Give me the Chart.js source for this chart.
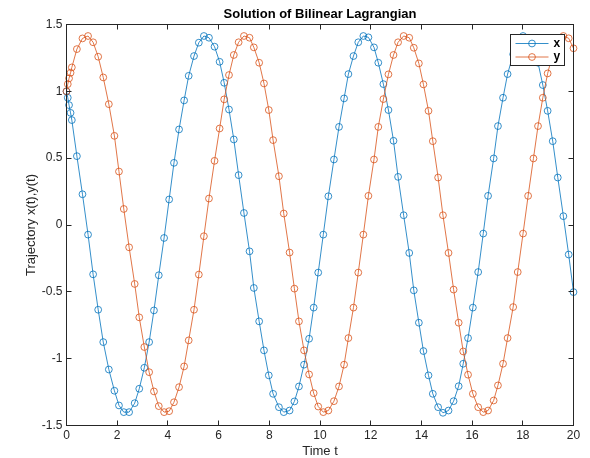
<!DOCTYPE html>
<html>
<head>
<meta charset="utf-8">
<script src="https://cdn.jsdelivr.net/npm/chart.js@4.4.1/dist/chart.umd.min.js"></script>
<style>
  html,body{margin:0;padding:0;background:#fff}
  #wrap{width:590px;height:458px}
</style>
</head>
<body>
<div id="wrap"><canvas id="lagChart" width="590" height="458"></canvas></div>
<script>
/**** Solution of Bilinear Lagrangian - x(t), y(t) ****/

// time samples (solver output)
const tVals = [0,0.05,0.10,0.16,0.21,0.41,0.63,0.85,1.05,1.25,1.45,1.67,1.89,2.07,2.26,2.47,2.69,2.87,3.07,3.26,
  3.45,3.64,3.85,4.05,4.24,4.44,4.64,4.82,5.03,5.22,5.42,5.62,5.84,6.04,6.22,6.41,6.60,6.79,7.00,7.22,
  7.39,7.60,7.79,7.98,8.15,8.38,8.57,8.80,8.99,9.17,9.37,9.57,9.75,9.93,10.13,10.33,10.55,10.75,10.95,11.12,
  11.32,11.51,11.71,11.91,12.13,12.30,12.50,12.70,12.90,13.08,13.30,13.52,13.70,13.90,14.08,14.28,14.45,14.66,14.85,15.07,
  15.27,15.47,15.65,15.84,16.03,16.24,16.44,16.63,16.85,17.02,17.22,17.40,17.62,17.80,18.01,18.21,18.42,18.60,18.79,18.98,
  19.18,19.38,19.60,19.81,20.00];

const xVals = [1.000,0.952,0.897,0.839,0.785,0.515,0.230,-0.072,-0.369,-0.634,-0.876,-1.081,-1.240,-1.350,-1.400,-1.400,-1.333,-1.225,-1.068,-0.876,
  -0.639,-0.376,-0.097,0.191,0.465,0.715,0.932,1.116,1.264,1.364,1.414,1.401,1.334,1.221,1.064,0.864,0.640,0.373,0.090,-0.197,
  -0.471,-0.721,-0.938,-1.125,-1.263,-1.363,-1.400,-1.388,-1.320,-1.208,-1.045,-0.851,-0.618,-0.356,-0.072,0.215,0.490,0.734,0.947,1.129,
  1.264,1.367,1.414,1.404,1.329,1.214,1.054,0.860,0.630,0.360,0.073,-0.209,-0.489,-0.731,-0.943,-1.125,-1.263,-1.363,-1.405,-1.388,
  -1.318,-1.206,-1.038,-0.846,-0.618,-0.352,-0.064,0.218,0.498,0.740,0.952,1.129,1.277,1.370,1.414,1.400,1.330,1.214,1.047,0.854,
  0.627,0.355,0.066,-0.221,-0.502];

const yVals = [1.000,1.054,1.097,1.139,1.179,1.316,1.396,1.414,1.367,1.259,1.104,0.904,0.667,0.400,0.120,-0.167,-0.441,-0.691,-0.913,-1.101,
  -1.245,-1.355,-1.400,-1.393,-1.326,-1.213,-1.058,-0.863,-0.634,-0.371,-0.084,0.198,0.480,0.722,0.940,1.122,1.272,1.367,1.414,1.401,
  1.329,1.214,1.059,0.860,0.635,0.365,0.086,-0.206,-0.476,-0.721,-0.938,-1.118,-1.258,-1.358,-1.400,-1.388,-1.318,-1.208,-1.045,-0.846,
  -0.618,-0.356,-0.072,0.218,0.490,0.734,0.942,1.127,1.272,1.367,1.414,1.401,1.326,1.209,1.052,0.854,0.627,0.355,0.073,-0.209,
  -0.483,-0.731,-0.946,-1.120,-1.263,-1.363,-1.400,-1.388,-1.313,-1.200,-1.038,-0.846,-0.614,-0.352,-0.064,0.218,0.498,0.740,0.952,1.134,
  1.280,1.370,1.414,1.397,1.322];

const seriesNames  = ["x", "y"];
const seriesColors = ["#0072BD", "#D95319"];
const xTicks = [0,2,4,6,8,10,12,14,16,18,20];
const yTicks = [-1.5,-1,-0.5,0,0.5,1,1.5];
const chartTitle = "Solution of Bilinear Lagrangian";

const FONT = '"Liberation Sans", Arial, Helvetica, sans-serif';
const AX = "#262626";

function pts(vals){ return tVals.map((t,i)=>({x:t, y:vals[i]})); }
function series(i, vals, order){
  return {
    label: seriesNames[i], data: pts(vals), order,
    borderColor: seriesColors[i], borderWidth: 0.8,
    pointStyle: "circle", pointRadius: 3.4, pointBorderWidth: 0.8,
    pointBorderColor: seriesColors[i], pointBackgroundColor: "rgba(0,0,0,0)",
    tension: 0, fill: false, clip: false
  };
}

// matlab-ish box, inward ticks, title, inset legend
const matlabAxes = {
  id: "matlabAxes",
  afterDraw(chart){
    const {ctx, chartArea:a, scales:{x, y}} = chart;
    ctx.save();
    ctx.strokeStyle = AX; ctx.lineWidth = 1;
    ctx.strokeRect(a.left, a.top, a.right - a.left, a.bottom - a.top);
    const tl = 5;
    ctx.beginPath();
    xTicks.forEach(v=>{
      const px = Math.round(x.getPixelForValue(v) - 0.5) + 0.5;
      ctx.moveTo(px, a.bottom); ctx.lineTo(px, a.bottom - tl);
      ctx.moveTo(px, a.top);    ctx.lineTo(px, a.top + tl);
    });
    yTicks.forEach(v=>{
      const py = Math.round(y.getPixelForValue(v) - 0.5) + 0.5;
      ctx.moveTo(a.left, py);  ctx.lineTo(a.left + tl, py);
      ctx.moveTo(a.right, py); ctx.lineTo(a.right - tl, py);
    });
    ctx.stroke();

    // legend box (top right, inside axes)
    const lx = 510.5, ly = 34.5, lw = 54, lh = 31;
    ctx.fillStyle = "#fff";
    ctx.fillRect(lx, ly, lw, lh);
    ctx.strokeStyle = AX;
    ctx.strokeRect(lx, ly, lw, lh);
    chart.data.datasets.forEach((ds, i)=>{
      const cy = ly + 9 + i * 13.5;
      ctx.strokeStyle = ds.borderColor; ctx.lineWidth = 0.8;
      ctx.beginPath(); ctx.moveTo(lx + 5, cy); ctx.lineTo(lx + 38, cy); ctx.stroke();
      ctx.beginPath(); ctx.arc(lx + 21.5, cy, 3.4, 0, Math.PI*2); ctx.stroke();
      ctx.fillStyle = "#000"; ctx.font = "bold 12px " + FONT;
      ctx.textAlign = "left"; ctx.textBaseline = "middle";
      ctx.fillText(ds.label, lx + 43, cy);
    });

    // title centred over the axes
    ctx.fillStyle = "#000"; ctx.font = "bold 13px " + FONT;
    ctx.textAlign = "center"; ctx.textBaseline = "middle";
    ctx.fillText(chartTitle, (a.left + a.right)/2, 14.5);
    ctx.restore();
  }
};

new Chart(document.getElementById("lagChart"), {
  type: "line",
  data: { datasets: [ series(0, xVals, 1), series(1, yVals, 0) ] },
  options: {
    responsive: false, animation: false, devicePixelRatio: 1,
    layout: { padding: { top: 24.5, right: 16.5, left: 0, bottom: 0 } },
    plugins: { legend: { display: false }, tooltip: { enabled: false }, title: { display: false } },
    scales: {
      x: {
        type: "linear", min: 0, max: 20,
        grid: { display: false, drawTicks: false }, border: { display: false },
        afterBuildTicks: s => { s.ticks = xTicks.map(v=>({value:v})); },
        afterFit: s => { s.height = 32.5; },
        ticks: { padding: 3, maxRotation: 0, color: AX, font: { family: FONT, size: 12 },
                 callback: v => String(v) },
        title: { display: true, text: "Time t", color: AX, font: { family: FONT, size: 13, lineHeight: 1 }, padding: 0 }
      },
      y: {
        type: "linear", min: -1.5, max: 1.5,
        grid: { display: false, drawTicks: false }, border: { display: false },
        afterBuildTicks: s => { s.ticks = yTicks.map(v=>({value:v})); },
        afterFit: s => { s.width = 66.5; },
        ticks: { padding: 4, color: AX, font: { family: FONT, size: 12 },
                 callback: v => String(v) },
        title: { display: true, text: "Trajectory x(t),y(t)", color: AX, font: { family: FONT, size: 13, lineHeight: 1 },
                 padding: { top: 25, bottom: 0 } }
      }
    }
  },
  plugins: [matlabAxes]
});
</script>
</body>
</html>
